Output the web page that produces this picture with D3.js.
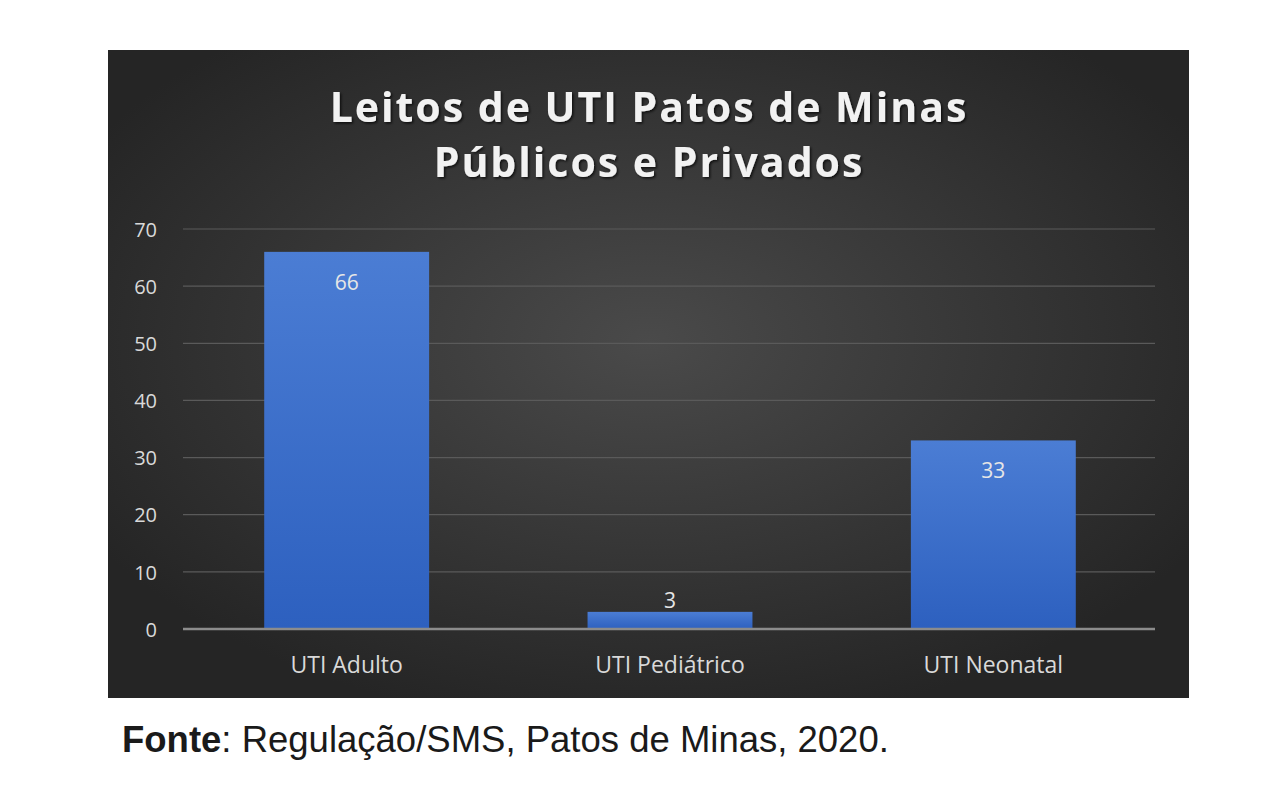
<!DOCTYPE html>
<html><head><meta charset="utf-8">
<script src="https://cdn.jsdelivr.net/npm/d3@7"></script>
<style>body{margin:0;background:#fff}svg{display:block}</style>
</head><body>
<svg id="c" width="1280" height="795"></svg>
<script>
const categories = ["UTI Adulto", "UTI Pediátrico", "UTI Neonatal"];
const values = [66, 3, 33];
const yTicks = [0, 10, 20, 30, 40, 50, 60, 70];
const titleLines = ["Leitos de UTI Patos de Minas", "Públicos e Privados"];

const svg = d3.select("#c");
const defs = svg.append("defs");
const rg = defs.append("radialGradient").attr("id","bg").attr("cx","50%").attr("cy","45%").attr("r","60%");
rg.append("stop").attr("offset","0%").attr("stop-color","#4a4a4a");
rg.append("stop").attr("offset","100%").attr("stop-color","#252525");
const bg = defs.append("linearGradient").attr("id","bar").attr("x1",0).attr("x2",0).attr("y1",0).attr("y2",1);
bg.append("stop").attr("offset","0%").attr("stop-color","#4b7dd4");
bg.append("stop").attr("offset","100%").attr("stop-color","#2d60bf");
const sh = defs.append("filter").attr("id","sh").attr("x","-10%").attr("y","-20%").attr("width","120%").attr("height","140%");
sh.append("feDropShadow").attr("dx",1.5).attr("dy",1.5).attr("stdDeviation",1).attr("flood-color","#000").attr("flood-opacity",0.7);

svg.append("rect").attr("x",108).attr("y",50).attr("width",1081).attr("height",648).attr("fill","url(#bg)");

const y = d3.scaleLinear().domain([0,70]).range([629,229]);
const x = d3.scaleBand().domain(categories).range([185,1155]).paddingInner(0.49).paddingOuter(0.245);

const g = svg.append("g");
g.selectAll("line.grid").data(yTicks.filter(d=>d>0)).join("line")
  .attr("x1",183).attr("x2",1155).attr("y1",d=>y(d)).attr("y2",d=>y(d))
  .attr("stroke","#5a5a5a").attr("stroke-width",1.2);

const yAxis = d3.axisLeft(y).tickValues(yTicks).tickSize(0).tickPadding(0);
const ya = svg.append("g").attr("transform","translate(157,0)").call(yAxis);
ya.select(".domain").remove();
ya.selectAll("text").attr("fill","#d9d9d9").attr("font-family","'Open Sans', sans-serif").attr("font-size",20).attr("dy","0.36em");

g.selectAll("rect.b").data(values).join("rect")
  .attr("x",(d,i)=>x(categories[i])).attr("width",x.bandwidth())
  .attr("y",d=>y(d)).attr("height",d=>y(0)-y(d)).attr("fill","url(#bar)");

g.append("line").attr("x1",183).attr("x2",1155).attr("y1",y(0)).attr("y2",y(0)).attr("stroke","#8c8c8c").attr("stroke-width",2.5);

g.selectAll("text.v").data(values).join("text")
  .attr("x",(d,i)=>x(categories[i])+x.bandwidth()/2)
  .attr("y",d=> d>10 ? y(d)+38 : y(d)-4)
  .attr("text-anchor","middle").attr("fill","#e6e6e6")
  .attr("font-family","'Open Sans', sans-serif").attr("font-size",21).text(d=>d);

const xa = svg.append("g").attr("transform",`translate(0,${y(0)})`).call(d3.axisBottom(x).tickSize(0).tickPadding(0));
xa.select(".domain").remove();
xa.selectAll("text").attr("fill","#d9d9d9").attr("font-family","'Open Sans', sans-serif").attr("font-size",23).attr("dy",0).attr("y",44);

svg.selectAll("text.t").data(titleLines).join("text")
  .attr("x",649).attr("y",(d,i)=>122+i*55).attr("text-anchor","middle")
  .attr("fill","#f2f2f2").attr("font-family","'Open Sans', sans-serif").attr("font-weight","bold")
  .attr("font-size",41).attr("letter-spacing",2).attr("filter","url(#sh)")
  .text(d=>d);

const f = svg.append("text").attr("x",122).attr("y",752).attr("fill","#1a1a1a")
  .attr("font-family","'Liberation Sans', Arial, sans-serif").attr("font-size",36.5);
f.append("tspan").attr("font-weight","bold").text("Fonte");
f.append("tspan").text(": Regulação/SMS, Patos de Minas, 2020.");
</script>
</body></html>
